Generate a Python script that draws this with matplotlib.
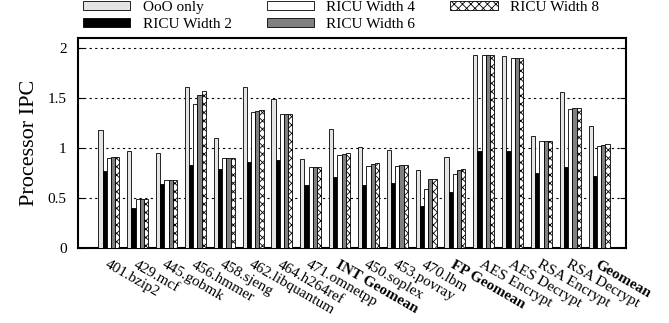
import numpy as np
import matplotlib.pyplot as plt
import matplotlib

matplotlib.rcParams['font.family'] = 'Liberation Serif'
matplotlib.rcParams['hatch.linewidth'] = 0.6

benchmarks = ['401.bzip2', '429.mcf', '445.gobmk', '456.hmmer', '458.sjeng',
              '462.libquantum', '464.h264ref', '471.omnetpp', 'INT Geomean',
              '450.soplex', '453.povray', '470.lbm', 'FP Geomean',
              'AES Encrypt', 'AES Decrypt', 'RSA Encrypt', 'RSA Decrypt',
              'Geomean']
bold_labels = ['INT Geomean', 'FP Geomean', 'Geomean']

ooo_only = [1.18, 0.97, 0.95, 1.61, 1.10, 1.61, 1.49, 0.89, 1.19,
            1.01, 0.98, 0.78, 0.91, 1.93, 1.92, 1.12, 1.56, 1.22]
ricu_w2 = [0.77, 0.40, 0.64, 0.83, 0.79, 0.86, 0.88, 0.63, 0.71,
           0.63, 0.65, 0.42, 0.56, 0.97, 0.97, 0.75, 0.81, 0.72]
ricu_w4 = [0.90, 0.49, 0.68, 1.44, 0.90, 1.36, 1.34, 0.81, 0.93,
           0.82, 0.82, 0.59, 0.74, 1.93, 1.90, 1.07, 1.39, 1.02]
ricu_w6 = [0.91, 0.49, 0.68, 1.53, 0.90, 1.37, 1.34, 0.81, 0.94,
           0.84, 0.83, 0.69, 0.78, 1.93, 1.90, 1.07, 1.40, 1.03]
ricu_w8 = [0.91, 0.49, 0.68, 1.57, 0.90, 1.38, 1.34, 0.81, 0.95,
           0.85, 0.83, 0.69, 0.79, 1.93, 1.90, 1.07, 1.40, 1.04]

series = [
    ('OoO only', ooo_only, dict(color='#e4e4e4', hatch=None)),
    ('RICU Width 2', ricu_w2, dict(color='black', hatch=None)),
    ('RICU Width 4', ricu_w4, dict(color='white', hatch=None)),
    ('RICU Width 6', ricu_w6, dict(color='#808080', hatch=None)),
    ('RICU Width 8', ricu_w8, dict(color='white', hatch='xxxx')),
]

fig = plt.figure(figsize=(6.69, 3.23), dpi=100)
ax = fig.add_axes([0.1161, 0.2313, 0.8196, 0.6526])

x = np.arange(len(benchmarks))
w = 0.146
for i, (name, vals, st) in enumerate(series):
    ax.bar(x + (i - 2) * w, vals, w, label=name, color=st['color'],
           hatch=st['hatch'], edgecolor='black', linewidth=0.6, zorder=3)

ax.set_xlim(-1.08, 17.93)
ax.set_ylim(0, 2.11)
ax.set_yticks([0, 0.5, 1, 1.5, 2])
ax.set_yticklabels(['0', '0.5', '1', '1.5', '2'])
ax.yaxis.grid(True, linestyle=(0, (2, 3)), color='black', linewidth=0.8, zorder=0)
ax.tick_params(axis='y', direction='in', length=4, labelsize=11, pad=8, right=True)
ax.set_ylabel('Processor IPC', fontsize=16, labelpad=6)

ax.set_xticks(x)
ax.set_xticklabels(benchmarks, rotation=-30, ha='left', rotation_mode='anchor',
                   fontsize=11)
ax.tick_params(axis='x', length=0, pad=7)
for lbl in ax.get_xticklabels():
    if lbl.get_text() in bold_labels:
        lbl.set_fontweight('bold')

for sp in ax.spines.values():
    sp.set_linewidth(1.5)

fig.legend(loc='upper left', bbox_to_anchor=(0.124, 0.997), ncol=3,
           frameon=False, fontsize=11, handlelength=3.1, handleheight=0.55,
           handletextpad=0.8, columnspacing=2.3, labelspacing=0.25,
           borderpad=0, borderaxespad=0)

plt.savefig('out.png', dpi=100)
